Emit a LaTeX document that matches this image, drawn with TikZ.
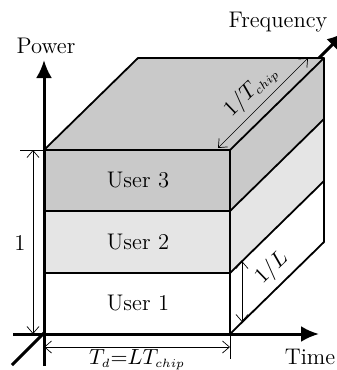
\documentclass[tikz,border=0pt]{standalone}
\usetikzlibrary{arrows.meta}
\begin{document}
\begin{tikzpicture}[x=0.5pt,y=-0.5pt,
  every node/.style={font=\fontsize{11.3pt}{13pt}\selectfont, inner sep=1pt},
  axis/.style={line width=1.5pt, -{Latex[length=9pt,width=8pt]}},
  edge/.style={line width=0.9pt, line join=round},
  dim/.style={line width=0.35pt, {Straight Barb[length=3.5pt,width=6pt]}-{Straight Barb[length=3.5pt,width=6pt]}},
  ext/.style={line width=0.35pt},
  dark/.style={fill=gray!42},
  light/.style={fill=gray!20}]
\clip (0,0) rectangle (337,370);
% corner coordinates
\coordinate (O) at (44,334);
\coordinate (F1) at (44,273);
\coordinate (F2) at (44,211);
\coordinate (F3) at (44,150);
\coordinate (R0) at (230,334);
\coordinate (R1) at (230,273);
\coordinate (R2) at (230,211);
\coordinate (R3) at (230,150);
\coordinate (B0) at (324,242);
\coordinate (B1) at (324,181);
\coordinate (B2) at (324,119);
\coordinate (B3) at (324,58);
\coordinate (BL) at (138,58);
% axes ends
\coordinate (pStart) at (44,366);
\coordinate (pEnd) at (44,60);
\coordinate (tStart) at (13,334);
\coordinate (tEnd) at (319,334);
\coordinate (fStart) at (12,365);
\coordinate (fEnd) at (345,32);
% frequency axis (behind box)
\draw[axis] (fStart) -- (fEnd);
% faces
\fill[white] (O) rectangle (R1);
\fill[light] (F1) rectangle (R2);
\fill[dark] (F2) rectangle (R3);
\fill[dark] (F3) -- (BL) -- (B3) -- (R3) -- cycle;
\fill[dark] (R3) -- (B3) -- (B2) -- (R2) -- cycle;
\fill[light] (R2) -- (B2) -- (B1) -- (R1) -- cycle;
\fill[white] (R1) -- (B1) -- (B0) -- (R0) -- cycle;
% edges
\draw[edge] (F3) -- (BL) -- (B3) -- (R3) -- cycle;
\draw[edge] (F3) -- (R3) -- (R0);
\draw[edge] (F2) -- (R2) -- (B2);
\draw[edge] (F1) -- (R1) -- (B1);
\draw[edge] (R0) -- (B0) -- (B3);
% axes
\draw[axis] (pStart) -- (pEnd);
\draw[axis] (tStart) -- (tEnd);
% labels
\node (power) at (46,46) {Power};
\node (freq) at (278,22) {Frequency};
\node (time) at (310,357) {Time};
\node (u3) at (138,180) {User 3};
\node (u2) at (138,242) {User 2};
\node (u1) at (138,303) {User 1};
% dimension 1
\coordinate (e1a) at (20,150);
\draw[ext] (e1a) -- (F3);
\coordinate (d1a) at (33,150);
\coordinate (d1b) at (33,334);
\draw[dim] (d1a) -- (d1b);
\node (one) at (20,243) {1};
% dimension T_d
\coordinate (e2b) at (230,359);
\draw[ext] (R0) -- (e2b);
\coordinate (d2a) at (44,347);
\coordinate (d2b) at (230,347);
\draw[dim] (d2a) -- (d2b);
\node[anchor=north] (td) at (137,347) {$T_{\scriptscriptstyle d}{=}LT_{\scriptscriptstyle chip}$};
% dimension 1/L
\coordinate (d3a) at (242,261);
\coordinate (d3b) at (242,322);
\draw[dim] (d3a) -- (d3b);
\node[rotate=44] (oneL) at (272,268) {$1/L$};
% dimension 1/T_chip
\coordinate (d4a) at (218,148);
\coordinate (d4b) at (308,58);
\draw[dim] (d4a) -- (d4b);
\node[rotate=44] (oneT) at (251,91) {$1/T_{\scriptscriptstyle chip}$};
\end{tikzpicture}
\end{document}
